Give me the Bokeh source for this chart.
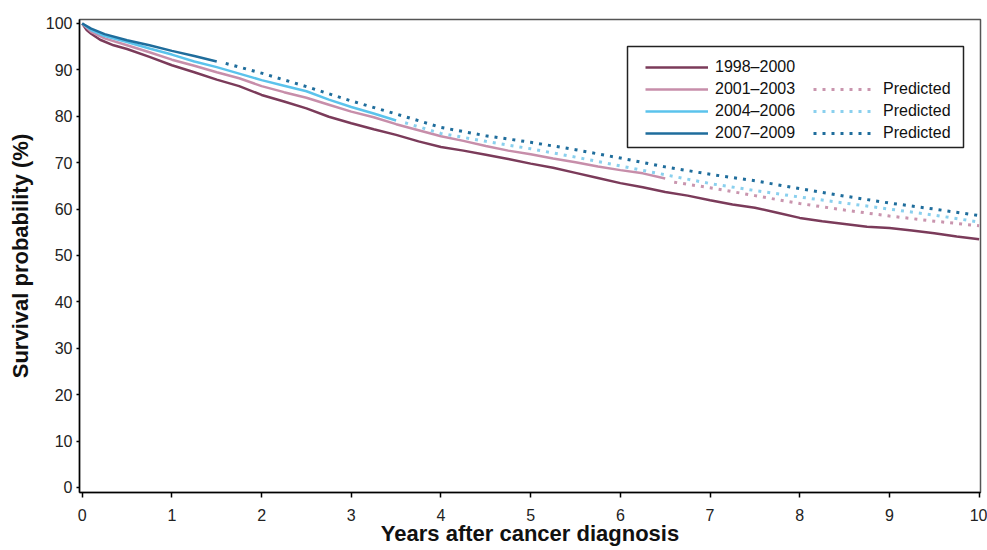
from bokeh.plotting import figure
from bokeh.models import Range1d, FixedTicker, Legend, LegendItem, BoxAnnotation
from bokeh.embed import file_html
from bokeh.resources import INLINE

# ---- data ----
yrs_9800 = [0, 0.05, 0.1, 0.2, 0.35, 0.5, 0.75, 1.0, 1.25, 1.5, 1.75, 2.0, 2.25, 2.5, 2.75,
            3.0, 3.25, 3.5, 3.75, 4.0, 4.25, 4.5, 4.75, 5.0, 5.25, 5.5, 5.75, 6.0, 6.25,
            6.5, 6.75, 7.0, 7.25, 7.5, 7.75, 8.0, 8.25, 8.5, 8.75, 9.0, 9.25, 9.5, 9.75, 10.0]
surv_9800 = [100, 98.6, 97.8, 96.5, 95.3, 94.5, 92.8, 91.0, 89.5, 87.9, 86.5, 84.6, 83.2, 81.7, 79.9,
             78.5, 77.2, 76.0, 74.6, 73.4, 72.6, 71.7, 70.8, 69.8, 68.9, 67.8, 66.7, 65.6, 64.7,
             63.7, 62.9, 61.9, 61.0, 60.3, 59.2, 58.1, 57.4, 56.8, 56.2, 55.9, 55.4, 54.8, 54.1, 53.5]

yrs_0103 = [0, 0.1, 0.25, 0.5, 0.75, 1.0, 1.25, 1.5, 1.75, 2.0, 2.25, 2.5, 2.75, 3.0, 3.25,
            3.5, 3.75, 4.0, 4.25, 4.5, 4.75, 5.0, 5.25, 5.5, 5.75, 6.0, 6.25, 6.5]
surv_0103 = [100, 98.2, 96.8, 95.3, 93.8, 92.2, 90.9, 89.5, 88.2, 86.5, 85.2, 84.0, 82.5, 81.0, 79.8,
             78.3, 77.0, 75.7, 74.7, 73.6, 72.6, 71.8, 70.9, 70.1, 69.2, 68.4, 67.7, 66.6]
pred_yrs_0103 = [6.6, 7.0, 7.5, 8.0, 8.5, 9.0, 9.5, 10.0]
pred_0103 = [65.8, 64.6, 62.9, 61.2, 59.8, 58.5, 57.4, 56.4]

yrs_0406 = [0, 0.1, 0.25, 0.5, 0.75, 1.0, 1.25, 1.5, 1.75, 2.0, 2.25, 2.5, 2.75, 3.0, 3.25, 3.5]
surv_0406 = [100, 98.6, 97.3, 96.0, 94.6, 93.3, 91.8, 90.6, 89.2, 87.8, 86.6, 85.4, 83.6, 82.0, 80.6, 79.1]
pred_yrs_0406 = [3.6, 4.0, 4.5, 5.0, 5.5, 6.0, 6.5, 7.0, 7.5, 8.0, 8.5, 9.0, 9.5, 10.0]
pred_0406 = [78.6, 76.3, 74.6, 73.0, 71.2, 69.3, 67.4, 65.5, 64.0, 62.6, 61.3, 60.0, 58.7, 57.2]

yrs_0709 = [0, 0.1, 0.25, 0.5, 0.75, 1.0, 1.25, 1.5]
surv_0709 = [100, 98.9, 97.7, 96.4, 95.3, 94.1, 93.0, 91.8]
pred_yrs_0709 = [1.6, 2.0, 2.5, 3.0, 3.5, 4.0, 4.5, 5.0, 5.5, 6.0, 6.5, 7.0, 7.5, 8.0, 8.5, 9.0, 9.5, 10.0]
pred_0709 = [91.4, 89.3, 86.4, 83.3, 80.5, 77.6, 75.8, 74.4, 72.8, 71.0, 69.1, 67.5, 66.1, 64.4, 62.8, 61.3, 60.0, 58.6]

labels = ["1998\u20132000", "2001\u20132003", "2004\u20132006", "2007\u20132009"]
pred_label = "Predicted"
x_ticks = list(range(0, 11))
y_ticks = list(range(0, 101, 10))

C_9800 = "#7B3B5A"
C_0103 = "#C78EAA"
C_0406 = "#5BC3EC"
C_0709 = "#1F6D9C"
P_0103 = "#C995AE"
P_0406 = "#8AD0EE"
P_0709 = "#1F6D9C"

FONT = "Liberation Sans"

p = figure(width=987, height=550, output_backend="svg", toolbar_location=None,
           x_range=Range1d(-0.03, 10.015), y_range=Range1d(-1.08, 100.86),
           min_border_left=79, min_border_right=7, min_border_top=19, min_border_bottom=58)
p.background_fill_color = "white"
p.border_fill_color = "white"
p.outline_line_color = "#555555"
p.outline_line_width = 1.5
p.xgrid.visible = False
p.ygrid.visible = False

lw = 2.5
r1 = p.line(yrs_9800, surv_9800, line_color=C_9800, line_width=lw)
r2 = p.line(yrs_0103, surv_0103, line_color=C_0103, line_width=lw)
r3 = p.line(yrs_0406, surv_0406, line_color=C_0406, line_width=lw)
r4 = p.line(yrs_0709, surv_0709, line_color=C_0709, line_width=lw)
dash = "3 6"
q2 = p.line(pred_yrs_0103, pred_0103, line_color=P_0103, line_width=3, line_dash=dash)
q3 = p.line(pred_yrs_0406, pred_0406, line_color=P_0406, line_width=3, line_dash=dash)
q4 = p.line(pred_yrs_0709, pred_0709, line_color=P_0709, line_width=3, line_dash=dash)

# axes
p.xaxis.ticker = FixedTicker(ticks=x_ticks)
p.yaxis.ticker = FixedTicker(ticks=y_ticks)
p.xaxis.axis_label = "Years after cancer diagnosis"
p.yaxis.axis_label = "Survival probability (%)"
for ax in (p.xaxis, p.yaxis):
    ax.axis_line_color = "black"
    ax.axis_line_width = 1.5
    ax.major_tick_line_color = "black"
    ax.major_tick_line_width = 1.5
    ax.minor_tick_line_color = None
    ax.major_tick_in = 0
    ax.major_label_text_font = FONT
    ax.major_label_text_font_size = "16px"
    ax.major_label_text_color = "#222222"
    ax.axis_label_text_font = FONT
    ax.axis_label_text_font_size = "22px"
    ax.axis_label_text_font_style = "bold"
    ax.axis_label_text_color = "#111111"
p.xaxis.major_tick_out = 5
p.xaxis.major_label_standoff = 11
p.xaxis.axis_label_standoff = -3
p.yaxis.major_tick_out = 3
p.yaxis.major_label_standoff = 4
p.yaxis.axis_label_standoff = 10

# legend box
box = BoxAnnotation(left=627, right=963, top=46, bottom=147,
                    left_units="canvas", right_units="canvas",
                    top_units="canvas", bottom_units="canvas",
                    fill_color="white", fill_alpha=1.0,
                    line_color="#222222", line_alpha=1.0, line_width=1.5, level="overlay")
p.add_layout(box)

def style_legend(lg, gw):
    lg.padding = 0
    lg.margin = 0
    lg.spacing = 4
    lg.glyph_width = gw
    lg.glyph_height = 18
    lg.label_height = 18
    lg.label_text_font = FONT
    lg.label_text_font_size = "16px"
    lg.label_text_color = "#111111"
    lg.border_line_color = None
    lg.background_fill_alpha = 0
    lg.inactive_fill_alpha = 0

leg1 = Legend(items=[LegendItem(label=labels[0], renderers=[r1]),
                     LegendItem(label=labels[1], renderers=[r2]),
                     LegendItem(label=labels[2], renderers=[r3]),
                     LegendItem(label=labels[3], renderers=[r4])],
              location=(566, 350))
style_legend(leg1, 63)
leg1.label_standoff = 7
leg2 = Legend(items=[LegendItem(label=pred_label, renderers=[q2]),
                     LegendItem(label=pred_label, renderers=[q3]),
                     LegendItem(label=pred_label, renderers=[q4])],
              location=(734, 350))
style_legend(leg2, 60)
leg2.label_standoff = 10
p.add_layout(leg1, "center")
p.add_layout(leg2, "center")

open("out.html", "w").write(file_html(p, INLINE))
